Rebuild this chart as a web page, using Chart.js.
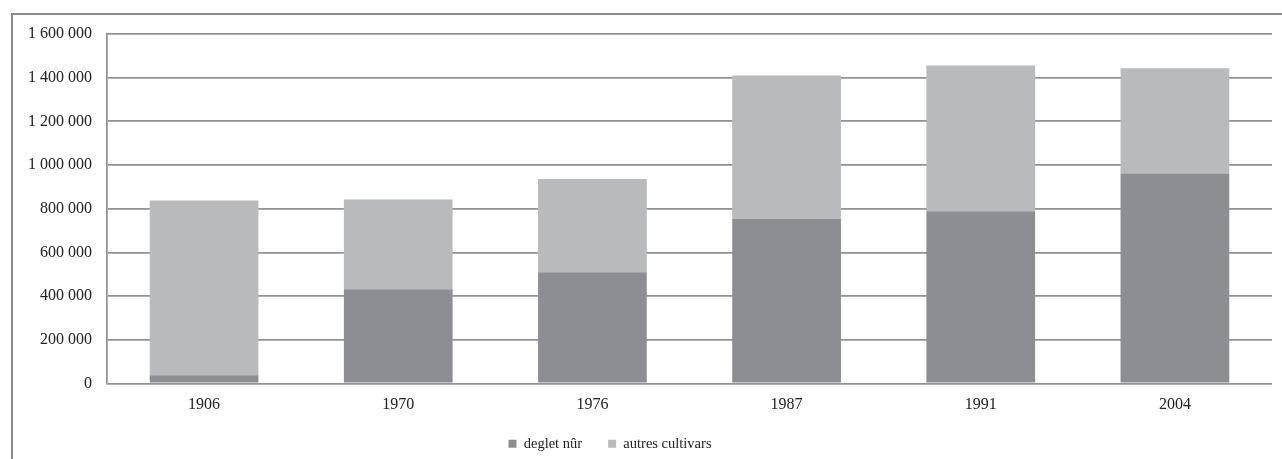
<!DOCTYPE html>
<html>
<head>
<meta charset="utf-8">
<script src="https://cdn.jsdelivr.net/npm/chart.js@4.4.1/dist/chart.umd.min.js"></script>
<style>
  html, body { margin: 0; padding: 0; background: #fff; }
  #wrap { position: relative; width: 1282px; height: 459px; }
</style>
</head>
<body>
<div id="wrap"><canvas id="c" width="1282" height="459"></canvas></div>
<script>
const categories = ['1906', '1970', '1976', '1987', '1991', '2004'];
const degletNur = [38000, 431000, 509000, 754000, 789000, 961000];
const autresCultivars = [800000, 411000, 427000, 656000, 667000, 482000];
const seriesNames = ['deglet nûr', 'autres cultivars'];
const yMin = 0, yMax = 1600000, yStep = 200000;

const fmt = v => String(v).replace(/\B(?=(\d{3})+(?!\d))/g, ' ');

const framePlugin = {
  id: 'frame',
  beforeDraw(chart) {
    const ctx = chart.ctx;
    ctx.save();
    ctx.strokeStyle = '#8a8a8a';
    ctx.lineWidth = 2;
    ctx.beginPath();
    ctx.moveTo(12, 459);
    ctx.lineTo(12, 14);
    ctx.lineTo(1282, 14);
    ctx.stroke();
    ctx.restore();
  }
};

const legendShift = {
  id: 'legendShift',
  afterLayout(chart) {
    const l = chart.legend;
    if (l) { l.left -= 26; l.right -= 26; }
  }
};

const font = { family: '"Liberation Serif", "Times New Roman", serif', size: 16 };
const legendFont = { family: '"Liberation Serif", "Times New Roman", serif', size: 14.5 };

new Chart(document.getElementById('c'), {
  type: 'bar',
  data: {
    labels: categories,
    datasets: [
      { label: seriesNames[0], data: degletNur, backgroundColor: '#8d8e91', borderWidth: 0 },
      { label: seriesNames[1], data: autresCultivars, backgroundColor: '#b9babc', borderWidth: 0 }
    ]
  },
  options: {
    responsive: false,
    animation: false,
    devicePixelRatio: 1,
    layout: { padding: { left: 0, right: 10, top: 34, bottom: -2 } },
    datasets: { bar: { barPercentage: 0.56, categoryPercentage: 1.0 } },
    plugins: {
      legend: {
        position: 'bottom',
        labels: {
          boxWidth: 8, boxHeight: 8, padding: 26,
          color: '#222', font: legendFont
        }
      },
      tooltip: { enabled: false }
    },
    scales: {
      x: {
        stacked: true,
        grid: { display: false },
        border: { display: false },
        ticks: { color: '#222', font: font, padding: 4, maxRotation: 0 },
        afterFit(s) { s.height = 27; }
      },
      y: {
        stacked: true,
        min: yMin, max: yMax,
        grid: { color: '#939393', lineWidth: 1.8, drawTicks: false },
        border: { display: true, color: '#939393', width: 1.8 },
        ticks: { stepSize: yStep, color: '#222', font: font, padding: 15, callback: v => fmt(v) },
        afterFit(s) { s.width = 107; }
      }
    }
  },
  plugins: [framePlugin, legendShift]
});
</script>
</body>
</html>
